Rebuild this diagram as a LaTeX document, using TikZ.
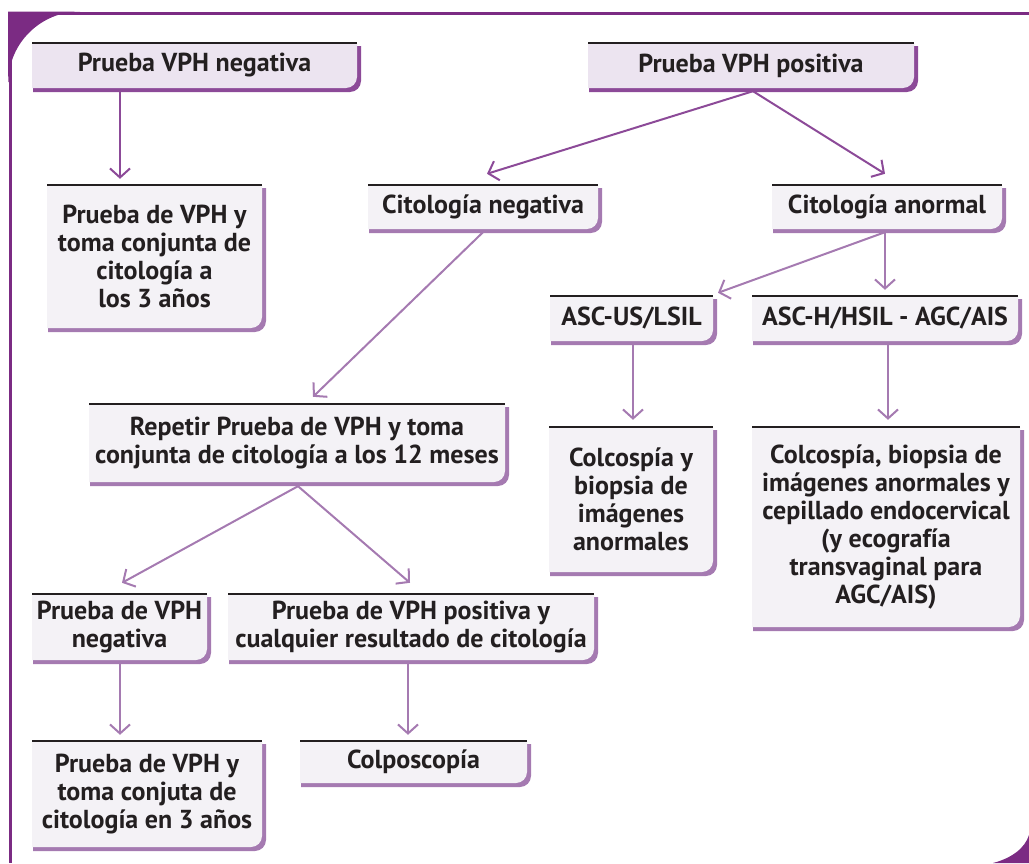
\documentclass[tikz,border=0pt]{standalone}
\usepackage{fontspec}
\setmainfont{PT Sans}
\usetikzlibrary{arrows.meta}
\definecolor{frame}{HTML}{7B2B83}
\definecolor{filldark}{HTML}{ECE4F0}
\definecolor{shaddark}{HTML}{8C4A98}
\definecolor{filllight}{HTML}{F4F2F6}
\definecolor{shadlight}{HTML}{A57AB1}
\definecolor{ink}{HTML}{231F20}
\tikzset{
  boxtext/.style={inner sep=0pt, align=center, text=ink, font=\fontsize{26}{28}\selectfont\bfseries},
  arrbase/.style={line width=2pt, -{Straight Barb[length=9pt,width=20pt,line width=2pt]}},
  arrdark/.style={arrbase, draw=shaddark},
  arrlight/.style={arrbase, draw=shadlight},
}
% name, x1, y1, x2, y2, variant, text
\newcommand\mkbox[7]{%
  \fill[shad#6] (#2+1,#3+3) -- (#4+4,#3+3) -- (#4+4,#5+4-11) .. controls (#4+4,#5+4-5) and (#4+4-5,#5+4) .. (#4+4-11,#5+4) -- (#2+1,#5+4) -- cycle;
  \fill[fill#6] (#2,#3) -- (#4,#3) -- (#4,#5-11) .. controls (#4,#5-5) and (#4-5,#5) .. (#4-11,#5) -- (#2,#5) -- cycle;
  \draw[ink, line width=2.2pt] (#2,#3) -- (#4,#3);
  \node[boxtext, minimum width={(#4-#2)*1pt}, minimum height={(#5-#3)*1pt}] (#1) at ({(#2+#4)/2},{(#3+#5)/2}) {#7};
}
\begin{document}
\begin{tikzpicture}[x=1pt,y=-1pt]
\useasboundingbox (0,0) rectangle (1029,863);
% frame
\fill[frame] (8,11.5) -- (80,11.5) .. controls (41,11.5) and (8.5,43) .. (8.5,82) -- (8,82) -- cycle;
\draw[frame, line width=3pt] (8,13) -- (1029,13);
\draw[frame, line width=3pt] (10,13) -- (10,863);
\fill[frame] (1029,863) -- (993,863) .. controls (1012,858) and (1025,848) .. (1029,835) -- cycle;
% boxes
\mkbox{b1}{32}{43}{357}{88}{dark}{Prueba VPH negativa}
\mkbox{b2}{588}{43}{914}{88}{dark}{Prueba VPH positiva}
\mkbox{b3}{47}{185}{262}{328}{light}{Prueba de VPH y\\toma conjunta de\\citología a\\los 3 años}
\mkbox{b4}{368}{185}{598}{229}{light}{Citología negativa}
\mkbox{b5}{772}{185}{1002}{229}{light}{Citología anormal}
\mkbox{b6}{550}{296}{713}{341}{light}{ASC-US/LSIL}
\mkbox{b7}{752}{296}{1018}{341}{light}{ASC-H/HSIL - AGC/AIS}
\mkbox{b8}{549}{427}{713}{572}{light}{Colcospía y\\biopsia de\\imágenes\\anormales}
\mkbox{b9}{752}{427}{1020}{627}{light}{Colcospía, biopsia de\\imágenes anormales y\\cepillado endocervical\\(y ecografía\\transvaginal para\\AGC/AIS)}
\mkbox{b10}{89}{404}{505}{482}{light}{Repetir Prueba de VPH y toma\\conjunta de citología a los 12 meses}
\mkbox{b11}{32}{594}{207}{660}{light}{Prueba de VPH\\negativa}
\mkbox{b12}{228}{594}{594}{660}{light}{Prueba de VPH positiva y\\cualquier resultado de citología}
\mkbox{b13}{32}{741}{262}{847}{light}{Prueba de VPH y\\toma conjuta de\\citología en 3 años}
\mkbox{b14}{300}{741}{527}{783}{light}{Colposcopía}
% connectors
\draw[arrdark] ([xshift=-74.5pt,yshift=-4pt]b1.south) -- ([xshift=-34.5pt,yshift=6pt]b3.north);
\draw[arrdark] ([xshift=2pt,yshift=-3pt]b2.south) -- ([xshift=4pt,yshift=11pt]b4.north);
\draw[arrdark] ([xshift=2pt,yshift=-3pt]b2.south) -- ([xshift=-2pt,yshift=11pt]b5.north);
\draw[arrlight] ([yshift=-3pt]b4.south) -- ([xshift=16pt,yshift=7pt]b10.north);
\draw[arrlight] ([xshift=-2pt,yshift=-3pt]b5.south) -- ([yshift=6pt]b7.north);
\draw[arrlight] ([xshift=-2pt,yshift=-3pt]b5.south) -- ([xshift=86.5pt,yshift=3pt]b6.north);
\draw[arrlight] ([xshift=1.5pt,yshift=-4pt]b6.south) -- ([xshift=2pt,yshift=7pt]b8.north);
\draw[arrlight] ([xshift=3pt,yshift=-4pt]b7.south) -- ([xshift=2pt,yshift=7pt]b9.north);
\draw[arrlight] ([xshift=1pt,yshift=-4pt]b10.south) -- ([xshift=2.5pt,yshift=11pt]b11.north);
\draw[arrlight] ([xshift=1pt,yshift=-4pt]b10.south) -- ([xshift=-1pt,yshift=11pt]b12.north);
\draw[arrlight] ([xshift=0.5pt,yshift=-4pt]b11.south) -- ([xshift=-27pt,yshift=6pt]b13.north);
\draw[arrlight] ([xshift=-3pt,yshift=-4pt]b12.south) -- ([xshift=-5.5pt,yshift=6pt]b14.north);
\end{tikzpicture}
\end{document}
